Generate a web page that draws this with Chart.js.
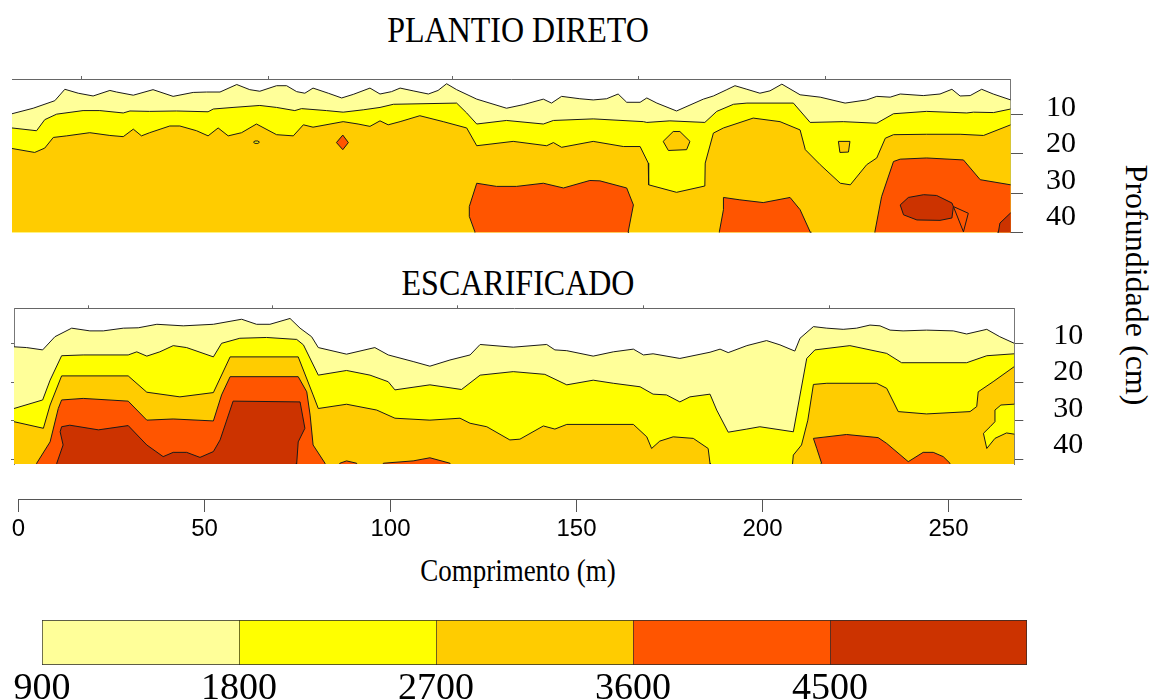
<!DOCTYPE html>
<html lang="pt">
<head>
<meta charset="utf-8">
<title>Plantio direto x escarificado</title>
<script src="https://cdn.jsdelivr.net/npm/chart.js@4.4.1/dist/chart.umd.min.js"></script>
<style>
  body { margin: 0; background: #fff; width: 1151px; height: 699px; position: relative; overflow: hidden; }
  canvas { position: absolute; left: 0; }
  .txt { position: absolute; white-space: nowrap; line-height: 1; color: #000; font-family: 'Liberation Serif', 'Times New Roman', serif; }
</style>
</head>
<body>

<div class="txt" style="left:518px;top:30px;font-size:32px;transform:translate(-50%,-50%) scaleY(1.12)">PLANTIO DIRETO</div>
<div class="txt" style="left:518px;top:283px;font-size:32px;transform:translate(-50%,-50%) scaleY(1.12)">ESCARIFICADO</div>
<div class="txt" style="left:518px;top:571px;font-size:27px;transform:translate(-50%,-50%) scaleY(1.15)">Comprimento (m)</div>
<div class="txt" style="left:1137px;top:285px;font-size:32px;transform:translate(-50%,-50%) rotate(90deg)">Profundidade (cm)</div>

<canvas id="gPlantio" width="1151" height="175" style="top:70px"></canvas>
<canvas id="gEscarif" width="1151" height="175" style="top:300px"></canvas>
<canvas id="gEixo" width="1151" height="69" style="top:480px"></canvas>
<canvas id="gEscala" width="1151" height="99" style="top:600px"></canvas>

<script>
// classes de resistencia (kPa) e cores
var escalaLimites = [900, 1800, 2700, 3600, 4500, 5400];
var escalaRotulos = [900, 1800, 2700, 3600, 4500];
var CORES = ['#FFFF99', '#FFFF00', '#FFCC00', '#FF5500', '#CC3300'];

var profTicks = [10, 20, 30, 40];
var compTicks = [0, 50, 100, 150, 200, 250];
var marcasTopoPD = [17.1, 67.1, 116.8, 166.8, 216.8];
var marcasTopoESC = [18.7, 68.4, 118.1, 167.9, 217.9];

// ---- PLANTIO DIRETO: isolinhas [comprimento m, profundidade cm] ----
var pdLimite1 = [[-1.7,9.9],[4.0,8.5],[9.8,6.6],[12.5,3.7],[16.1,4.7],[20.1,5.4],[24.6,4.0],[26.4,4.4],[30.9,5.2],[36.2,3.8],[41.6,5.5],[47.0,4.5],[50.6,4.4],[54.2,4.4],[58.7,2.5],[62.2,3.8],[64.9,4.2],[69.4,2.8],[72.1,2.8],[74.8,4.3],[77.0,4.7],[79.2,3.4],[83.3,4.7],[86.9,5.9],[90.0,5.0],[94.5,3.4],[97.2,4.9],[100.3,4.3],[102.6,3.4],[106.1,4.1],[110.2,4.9],[112.8,4.0],[115.1,2.3],[117.8,3.8],[123.2,6.2],[131.2,8.5],[135.7,7.6],[141.1,6.2],[143.3,7.2],[146.0,5.5],[150.9,6.1],[154.5,6.4],[158.1,6.1],[161.2,4.9],[163.5,7.0],[167.1,7.0],[168.9,5.9],[171.6,7.2],[176.9,9.2],[184.1,6.2],[186.8,5.4],[190.4,3.8],[192.6,2.8],[195.8,3.7],[199.3,4.7],[202.0,4.1],[205.2,2.4],[210.1,5.1],[215.5,5.7],[222.2,7.2],[228.0,6.4],[230.7,5.5],[234.3,5.7],[237.0,4.9],[243.2,5.3],[247.7,4.9],[250.9,3.7],[253.1,5.4],[255.8,5.3],[258.9,3.7],[262.0,4.9],[266.7,6.4]];
var pdLimite2 = [[-1.7,13.5],[4.9,14.2],[7.1,11.4],[10.3,10.0],[17.4,9.1],[21.9,9.1],[28.2,9.7],[30.0,9.2],[35.3,9.3],[42.5,9.2],[51.0,9.4],[52.4,8.7],[57.7,8.3],[64.9,7.8],[69.4,8.3],[74.3,9.1],[76.1,8.6],[82.8,9.1],[87.3,9.5],[92.7,8.9],[97.2,8.3],[100.8,7.5],[117.8,7.2],[120.5,9.7],[123.2,12.5],[131.2,11.6],[141.1,12.5],[143.8,11.6],[154.5,11.2],[168.0,11.9],[168.9,12.1],[175.1,11.7],[184.5,12.1],[187.7,9.3],[192.2,7.5],[195.8,7.2],[208.3,7.2],[212.8,12.1],[221.7,11.9],[230.7,12.3],[235.2,9.9],[244.1,9.3],[254.9,9.7],[256.7,9.5],[262.1,9.6],[266.7,8.7]];
var pdLimite3 = [[-1.7,18.7],[4.4,19.7],[7.1,18.6],[9.4,15.9],[13.0,15.5],[19.2,14.7],[24.6,15.4],[28.2,15.7],[30.9,13.8],[33.1,15.5],[35.3,14.7],[40.7,13.0],[43.4,13.0],[47.9,14.2],[51.0,15.5],[53.7,13.5],[56.4,15.5],[60.0,14.7],[64.0,12.5],[69.4,15.2],[73.9,15.5],[76.6,12.7],[79.2,13.3],[87.3,11.9],[91.3,12.5],[94.5,13.1],[97.2,11.7],[99.4,12.7],[102.6,11.9],[107.9,10.4],[114.2,11.9],[120.5,13.5],[123.2,18.0],[133.0,16.9],[142.0,18.0],[143.8,17.2],[146.0,18.4],[154.5,16.9],[162.6,18.2],[167.1,18.2],[169.3,22.4],[169.4,27.9],[176.9,29.8],[184.5,28.2],[184.6,22.4],[186.8,14.8],[189.5,13.5],[197.5,11.0],[204.7,11.9],[210.1,14.0],[211.5,19.0],[215.5,22.8],[220.9,27.5],[223.6,27.9],[228.0,22.8],[230.7,21.1],[233.0,16.1],[235.2,15.2],[244.1,15.1],[253.1,15.1],[259.4,15.4],[266.7,12.7]];
var pdLimite4 = [[-2,42],[122.5,42],[122.7,39.8],[121.2,35.9],[121.2,33.4],[123.2,27.5],[128.5,28.3],[133.9,28.3],[141.1,27.5],[146.5,28.7],[153.6,26.8],[156.3,26.9],[163.5,28.7],[165.3,33.0],[163.9,39.8],[164.0,42],[188.3,42],[188.4,39.8],[189.5,34.2],[189.5,31.1],[193.9,31.7],[200.2,32.4],[207.4,31.1],[210.1,34.2],[212.8,39.8],[213.0,42],[230.0,42],[230.2,39.8],[232.0,30.9],[235.2,22.0],[237.0,21.4],[244.1,21.1],[254.0,21.6],[258.5,26.6],[266.7,27.9],[270,28.5]];
var pdNucleo = [[237.0,33.0],[239.2,31.1],[243.3,30.4],[246.8,30.6],[250.9,32.5],[251.3,33.4],[250.9,36.3],[247.7,36.9],[241.5,36.8],[237.9,35.5],[237.0,33.0]];
var pdCunha = [[251.3,33.4],[255.3,35.1],[254.0,39.8],[251.3,33.4]];
var pdCanto = [[268,34.9],[266.7,35.0],[263.8,37.6],[263.4,39.8],[263.3,42],[268,42],[268,34.9]];
var pdLosango = [[87.2,15.3],[88.7,17.2],[87.2,19.0],[85.5,17.2],[87.2,15.3]];
var pdOvalo = [[63.2,17.1],[63.6,16.8],[64.4,16.8],[64.8,17.1],[64.4,17.4],[63.6,17.4],[63.2,17.1]];
var pdPentagono = [[173.3,16.9],[176.0,14.4],[177.8,14.4],[180.5,16.9],[179.6,19.0],[174.7,19.2],[173.3,16.9]];
var pdQuadrado = [[220.4,16.9],[223.5,16.9],[223.1,19.6],[220.8,19.7],[220.4,16.9]];

// ---- ESCARIFICADO ----
var escLimite1 = [[-1.2,10.9],[2.2,11.1],[6.5,11.7],[9.8,8.3],[14.3,6.1],[19.2,6.8],[22.8,6.8],[28.2,6.1],[32.2,6.0],[37.2,5.1],[44.3,5.5],[52.4,5.1],[60.0,3.8],[64.0,5.1],[67.6,5.1],[73.0,3.6],[75.7,6.1],[78.8,8.3],[80.6,11.1],[88.2,12.8],[95.8,11.1],[99.4,13.0],[106.1,14.7],[110.6,15.9],[116.0,14.3],[121.4,13.0],[124.1,10.3],[133.0,11.0],[142.0,10.3],[144.2,11.7],[147.4,11.9],[154.5,13.3],[159.9,12.2],[165.3,11.5],[168.0,13.0],[170.6,12.7],[177.8,13.9],[185.9,12.3],[188.6,11.5],[190.8,12.4],[195.8,10.6],[201.1,9.3],[204.7,10.4],[208.7,12.0],[210.1,8.7],[213.7,5.7],[217.3,6.1],[221.7,6.4],[225.3,6.1],[228.9,5.3],[231.6,5.5],[234.3,6.6],[237.8,6.8],[244.1,6.6],[251.3,6.8],[254.9,7.6],[260.3,6.4],[263.8,8.3],[267.7,10.0]];
var escLimite2 = [[-1.2,26.8],[6.5,24.6],[8.5,19.5],[11.6,13.2],[17.4,13.0],[29.5,13.0],[31.8,12.2],[34.5,13.3],[38.0,12.2],[41.6,10.6],[45.2,11.1],[52.4,13.5],[54.6,10.0],[59.5,8.7],[66.7,8.5],[74.8,9.0],[76.6,10.4],[80.6,18.2],[88.2,17.0],[94.5,18.2],[99.4,19.9],[101.2,22.0],[110.6,20.7],[119.1,21.9],[124.1,18.2],[133.0,17.3],[141.5,18.0],[147.4,20.7],[154.5,19.5],[159.9,20.3],[167.1,21.2],[170.6,23.1],[174.2,23.3],[177.8,25.1],[180.5,23.8],[185.9,23.1],[187.7,27.2],[190.8,32.9],[195.8,32.1],[199.3,31.5],[208.3,32.8],[211.9,13.9],[214.1,11.7],[223.5,10.6],[233.4,12.6],[237.4,15.0],[254.9,15.0],[260.3,13.2],[267.7,12.7]];
var escLimite3 = [[-1.2,30.2],[6.7,31.9],[8.5,25.9],[11.6,18.4],[29.5,18.4],[34.5,22.6],[43.4,23.8],[52.4,22.7],[56.9,13.5],[75.2,13.5],[79.2,23.3],[80.6,26.8],[88.2,25.7],[96.3,27.2],[101.2,29.3],[110.6,29.8],[118.7,29.3],[121.4,30.6],[125.9,31.5],[132.1,34.9],[134.8,34.7],[141.1,31.3],[144.2,32.1],[147.4,30.9],[165.3,30.9],[168.9,34.1],[170.2,37.1],[172.4,35.2],[176.0,34.1],[181.4,34.5],[185.4,37.1],[185.9,40.9],[186.0,43],[207.9,43],[208.3,38.8],[210.5,36.2],[212.2,29.8],[213.7,20.6],[217.3,20.3],[230.7,20.3],[233.4,21.6],[236.5,27.6],[244.1,28.2],[255.8,27.6],[257.6,26.3],[258.0,22.5],[262.0,19.9],[267.7,16.0]];
var escLimite4 = [[-1.2,43],[4.7,43],[4.9,40.9],[8.5,35.4],[10.7,26.8],[11.6,24.6],[17.4,24.2],[29.5,24.9],[34.5,29.8],[41.6,29.5],[52.4,30.0],[54.6,23.3],[56.9,18.6],[75.2,18.6],[77.5,22.5],[78.4,28.5],[79.2,36.2],[82.4,40.9],[82.7,43],[85.9,43],[86.4,40.9],[88.2,40.3],[90.9,40.9],[91.3,43],[97.4,43],[98.1,40.9],[106.1,40.3],[110.6,39.5],[116.0,40.9],[116.5,43],[213.3,43],[215.9,40.9],[214.6,37.1],[213.7,34.5],[222.6,33.5],[231.1,34.3],[233.4,35.8],[239.2,40.5],[243.2,38.1],[245.9,38.1],[248.6,39.2],[250.4,40.9],[250.7,43],[269,43]];
var escLimite5 = [[-1.2,43],[10.1,43],[10.3,40.9],[12.0,36.2],[11.2,32.8],[11.6,31.5],[13.8,31.1],[21.5,32.3],[29.5,31.2],[34.5,36.2],[38.9,39.2],[41.6,38.1],[45.2,38.1],[48.8,39.4],[52.4,37.9],[54.2,34.9],[57.7,24.9],[75.7,25.1],[77.0,31.9],[75.2,35.4],[74.8,40.9],[74.7,43],[269,43]];
var escIlha = [[259.4,33.2],[261.2,31.5],[262.5,30.2],[262.5,27.2],[264.1,25.9],[269,25.6],[269,33.6],[265.6,33.1],[262.5,34.5],[260.3,37.1],[259.4,33.2]];

var LINHA = '#1a1a1a';
var FONTE_SERIF = "'Liberation Serif', 'Times New Roman', serif";

Chart.defaults.animation = false;
Chart.defaults.events = [];
Chart.defaults.plugins.legend.display = false;
Chart.defaults.plugins.tooltip.enabled = false;
Chart.defaults.font.family = FONTE_SERIF;

function pontos(lista) {
    return lista.map(function (p) { return {x: p[0], y: p[1]}; });
}

// faixa preenchida da isolinha ate o fundo do perfil
function faixa(lista, cor, ordem) {
    return {data: pontos(lista), borderColor: LINHA, borderWidth: 1, backgroundColor: cor,
            fill: {value: 80}, pointRadius: 0, tension: 0, order: ordem};
}

// mancha fechada (ilhas)
function mancha(lista, cor, ordem) {
    return {data: pontos(lista), borderColor: LINHA, borderWidth: 1, backgroundColor: cor,
            fill: 'shape', pointRadius: 0, tension: 0, order: ordem};
}

function fixar(tam) {
    return function (s) {
        if (s.isHorizontal()) s.height = tam; else s.width = tam;
        s.paddingTop = 0; s.paddingBottom = 0; s.paddingLeft = 0; s.paddingRight = 0;
    };
}

function marcas(valores) {
    return function (s) { s.ticks = valores.map(function (v) { return {value: v}; }); };
}

function semSeparador(v) { return String(v); }

function painel(id, conjuntos, c) {
    var escalas = {
        x: {type: 'linear', position: 'top', min: c.xMin, max: c.xMax,
            afterBuildTicks: marcas(c.topo), afterFit: fixar(0),
            grid: {drawOnChartArea: false, tickLength: 3, color: '#666'},
            border: {color: '#666'}, ticks: {display: false}},
        y: {type: 'linear', position: 'right', reverse: true, min: c.yMin, max: c.yMax,
            afterBuildTicks: marcas(profTicks), afterFit: fixar(c.tique),
            grid: {drawOnChartArea: false, tickLength: c.tique, color: '#555'},
            border: {color: '#777'}, ticks: {display: false}},
        yRotulo: {type: 'linear', position: 'right', weight: 1, reverse: true, min: c.rMin, max: c.rMax,
            afterBuildTicks: marcas(profTicks), afterFit: fixar(c.larguraRot),
            grid: {display: false, drawTicks: false}, border: {display: false},
            ticks: {font: {family: FONTE_SERIF, size: 30}, color: '#000', padding: c.recuo, callback: semSeparador}}
    };
    if (c.esquerda) {
        escalas.yEsq = {type: 'linear', position: 'left', reverse: true, min: c.yMin, max: c.yMax,
            afterBuildTicks: marcas(profTicks), afterFit: fixar(0),
            grid: {drawOnChartArea: false, tickLength: 3, color: '#666'},
            border: {color: '#777'}, ticks: {display: false}};
    }
    return new Chart(document.getElementById(id), {
        type: 'line',
        data: {datasets: conjuntos},
        options: {
            responsive: false, devicePixelRatio: 1,
            layout: {padding: c.margem},
            scales: escalas
        }
    });
}

painel('gPlantio', [
    faixa(pdLimite1, CORES[0], 20),
    faixa(pdLimite2, CORES[1], 19),
    faixa(pdLimite3, CORES[2], 18),
    faixa(pdLimite4, CORES[3], 17),
    mancha(pdNucleo, CORES[4], 6),
    mancha(pdCunha, CORES[3], 5),
    mancha(pdCanto, CORES[4], 5),
    mancha(pdLosango, CORES[3], 4),
    mancha(pdOvalo, CORES[1], 4),
    mancha(pdPentagono, CORES[2], 4),
    mancha(pdQuadrado, CORES[2], 4)
], {xMin: -1.7, xMax: 266.7, yMin: 1.1, yMax: 40, rMin: 2.0, rMax: 44.3,
    topo: marcasTopoPD, tique: 12.3, larguraRot: 128, recuo: 23,
    margem: {left: 12, right: 0, top: 9, bottom: 12.4}});

painel('gEscarif', [
    faixa(escLimite1, CORES[0], 20),
    faixa(escLimite2, CORES[1], 19),
    faixa(escLimite3, CORES[2], 18),
    faixa(escLimite4, CORES[3], 17),
    faixa(escLimite5, CORES[4], 16),
    mancha(escIlha, CORES[1], 5)
], {xMin: -1.2, xMax: 267.7, yMin: 0.98, yMax: 41.1, rMin: 2.38, rMax: 45.2,
    topo: marcasTopoESC, tique: 9, larguraRot: 127.7, recuo: 30, esquerda: true,
    margem: {left: 14, right: 0, top: 8.3, bottom: 11}});

// eixo do comprimento
new Chart(document.getElementById('gEixo'), {
    type: 'scatter',
    data: {datasets: []},
    options: {
        responsive: false, devicePixelRatio: 1,
        layout: {padding: {left: 18.5, right: 130, top: 0, bottom: 0}},
        scales: {
            x: {type: 'linear', position: 'bottom', min: 0, max: 269.5,
                afterBuildTicks: marcas(compTicks), afterFit: fixar(50),
                grid: {drawOnChartArea: false, tickLength: 13, color: '#555'},
                border: {color: '#555'},
                ticks: {font: {family: "'Liberation Sans', Arial, sans-serif", size: 24},
                        color: '#000', padding: 3, maxRotation: 0, autoSkip: false, callback: semSeparador}},
            y: {display: false, min: 0, max: 1}
        }
    }
});

// escala de cores
new Chart(document.getElementById('gEscala'), {
    type: 'bar',
    data: {
        labels: [''],
        datasets: CORES.map(function (cor, i) {
            return {data: [[escalaLimites[i], escalaLimites[i + 1]]], backgroundColor: cor,
                    borderColor: '#2a2a2a', borderSkipped: false, grouped: false,
                    borderWidth: {top: 1, bottom: 1, left: 1, right: i === CORES.length - 1 ? 1 : 0},
                    barPercentage: 1, categoryPercentage: 1};
        })
    },
    options: {
        indexAxis: 'y', responsive: false, devicePixelRatio: 1,
        layout: {padding: {left: 42, right: 124, top: 20, bottom: 0}},
        scales: {
            x: {type: 'linear', position: 'bottom', min: 900, max: 5400,
                afterBuildTicks: marcas(escalaRotulos), afterFit: fixar(34),
                grid: {display: false, drawTicks: false}, border: {display: false},
                ticks: {font: {family: FONTE_SERIF, size: 38}, color: '#000', padding: 1, maxRotation: 0, autoSkip: false, callback: semSeparador}},
            y: {display: false}
        }
    }
});
</script>
</body>
</html>
